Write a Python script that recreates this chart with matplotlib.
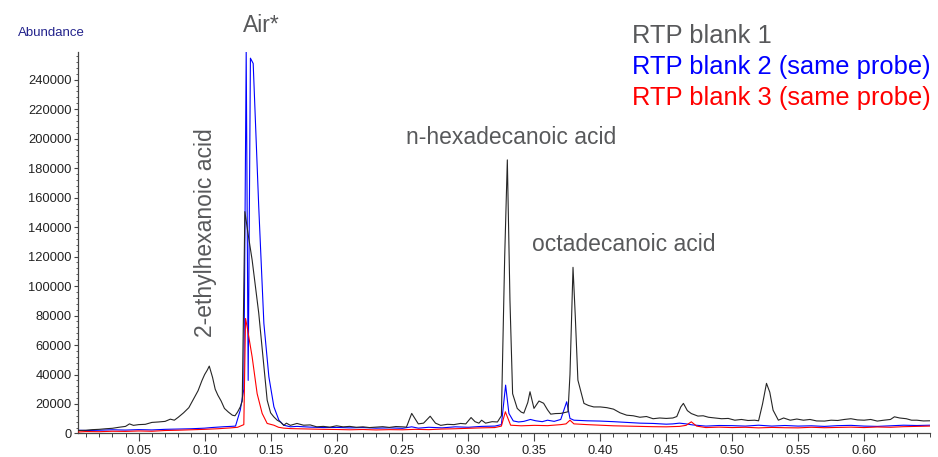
import numpy as np
import matplotlib
matplotlib.use('Agg')
import matplotlib.pyplot as plt
from matplotlib.ticker import MultipleLocator, FixedLocator, FormatStrFormatter

plt.rcParams['font.family'] = ['Liberation Sans', 'DejaVu Sans']

# ─── Data (retention time, abundance) ───
blank1_x = [0.004, 0.01, 0.015, 0.02, 0.025, 0.03, 0.035, 0.04, 0.043, 0.046,
            0.05, 0.055, 0.06, 0.065, 0.07, 0.074, 0.077, 0.08, 0.084, 0.088,
            0.092, 0.095, 0.098, 0.1, 0.102, 0.1035, 0.106, 0.108, 0.11, 0.1125,
            0.115, 0.118, 0.121, 0.123, 0.125, 0.127, 0.1285, 0.1305, 0.133, 0.136,
            0.141, 0.145, 0.1474, 0.15, 0.1524, 0.155, 0.1575, 0.16, 0.162, 0.165,
            0.17, 0.175, 0.18, 0.185, 0.19, 0.195, 0.2, 0.205, 0.21, 0.215,
            0.22, 0.225, 0.23, 0.235, 0.24, 0.245, 0.25, 0.253, 0.257, 0.262,
            0.266, 0.271, 0.275, 0.279, 0.284, 0.289, 0.294, 0.298, 0.302, 0.305,
            0.308, 0.31, 0.313, 0.318, 0.322, 0.325, 0.3275, 0.3295, 0.3315, 0.3335,
            0.337, 0.34, 0.342, 0.345, 0.3467, 0.3497, 0.3535, 0.357, 0.36, 0.3624,
            0.366, 0.37, 0.3755, 0.377, 0.3793, 0.381, 0.383, 0.3876, 0.391, 0.395,
            0.4, 0.405, 0.41, 0.415, 0.42, 0.425, 0.43, 0.435, 0.44, 0.445,
            0.45, 0.455, 0.458, 0.461, 0.463, 0.466, 0.469, 0.474, 0.478, 0.482,
            0.487, 0.492, 0.497, 0.502, 0.507, 0.512, 0.517, 0.52, 0.523, 0.526,
            0.5285, 0.531, 0.535, 0.539, 0.544, 0.549, 0.554, 0.559, 0.564, 0.57,
            0.575, 0.58, 0.585, 0.59, 0.595, 0.6, 0.605, 0.61, 0.615, 0.62,
            0.623, 0.627, 0.632, 0.636, 0.64, 0.645, 0.65]
blank1_y = [2000, 2200, 2600, 2800, 3200, 3500, 4200, 4800, 6500, 5500,
            6000, 6200, 7500, 7800, 8200, 9700, 9000, 11000, 14000, 17500,
            24000, 29000, 36000, 40000, 43000, 45700, 38000, 30000, 26000, 22000,
            17000, 14500, 12400, 12000, 14600, 18000, 22000, 150500, 135000, 117700,
            81700, 45200, 22600, 14000, 11300, 9000, 7700, 5500, 7000, 5500,
            6800, 5600, 5800, 4500, 4800, 4300, 5200, 4500, 4800, 4200,
            4500, 4000, 4300, 4600, 4100, 4700, 4500, 4300, 13600, 6500,
            7000, 11700, 7000, 5500, 6200, 6000, 6800, 6500, 10800, 8000,
            7000, 9000, 7000, 8000, 7800, 12000, 120000, 185600, 90000, 27000,
            17000, 14500, 13800, 21000, 28300, 17000, 22000, 20500, 16000, 13100,
            13500, 13600, 14700, 40000, 112700, 80000, 36200, 20400, 19000, 18000,
            18000, 17500, 16500, 14000, 12400, 12000, 11000, 11500, 10000, 10500,
            10200, 10500, 11500, 18000, 20400, 15500, 13500, 11800, 12000, 11000,
            10500, 10000, 10200, 9000, 9500, 8800, 9000, 8600, 20000, 34000,
            28000, 15800, 9000, 10500, 9000, 9800, 9000, 9500, 8500, 8400,
            9000, 8800, 9500, 10000, 9200, 9000, 9500, 8400, 9000, 9500,
            11300, 10500, 10000, 9000, 9000, 8500, 8600]

blank2_x = [0.004, 0.01, 0.02, 0.03, 0.04, 0.05, 0.06, 0.07, 0.08, 0.09,
            0.1, 0.105, 0.11, 0.115, 0.12, 0.1234, 0.127, 0.1297, 0.1315, 0.133,
            0.1347, 0.1368, 0.141, 0.1449, 0.1487, 0.1525, 0.1563, 0.16, 0.165, 0.17,
            0.18, 0.19, 0.2, 0.21, 0.22, 0.23, 0.24, 0.25, 0.257, 0.262,
            0.27, 0.28, 0.29, 0.3, 0.31, 0.32, 0.325, 0.3282, 0.3307, 0.334,
            0.338, 0.342, 0.347, 0.351, 0.356, 0.36, 0.365, 0.37, 0.3745, 0.377,
            0.38, 0.39, 0.4, 0.41, 0.42, 0.43, 0.44, 0.45, 0.455, 0.46,
            0.465, 0.47, 0.48, 0.49, 0.5, 0.51, 0.52, 0.53, 0.54, 0.55,
            0.56, 0.57, 0.58, 0.59, 0.6, 0.61, 0.62, 0.63, 0.64, 0.65]
blank2_y = [2200, 2000, 2200, 2500, 2300, 2600, 2400, 2800, 3000, 3200,
            3600, 4000, 4300, 4600, 4800, 5000, 15800, 30000, 259000, 36000,
            254600, 251000, 153900, 74700, 38400, 18100, 9000, 5600, 4500, 4800,
            4300, 4000, 4100, 3800, 4000, 3600, 3800, 3500, 4500, 3600,
            4200, 3800, 4500, 4200, 4800, 5000, 6000, 32800, 13600, 8500,
            7800, 8200, 9500, 8600, 8000, 9000, 8200, 9500, 21500, 10200,
            9000, 8600, 8400, 8000, 7500, 7000, 6800, 6300, 6500, 7000,
            6500, 5800, 5000, 5400, 5300, 5000, 5600, 5000, 5400, 5000,
            5200, 4800, 5300, 5500, 5000, 4800, 5200, 5600, 5400, 5600]

blank3_x = [0.004, 0.01, 0.02, 0.03, 0.04, 0.05, 0.06, 0.07, 0.08, 0.09,
            0.1, 0.11, 0.12, 0.125, 0.1297, 0.131, 0.1322, 0.136, 0.1398, 0.1436,
            0.1474, 0.1525, 0.156, 0.16, 0.165, 0.17, 0.18, 0.19, 0.2, 0.21,
            0.22, 0.23, 0.24, 0.25, 0.26, 0.27, 0.28, 0.29, 0.3, 0.31,
            0.32, 0.325, 0.328, 0.332, 0.34, 0.35, 0.36, 0.37, 0.374, 0.377,
            0.38, 0.39, 0.4, 0.41, 0.42, 0.43, 0.44, 0.45, 0.46, 0.465,
            0.469, 0.473, 0.48, 0.49, 0.5, 0.51, 0.52, 0.53, 0.54, 0.55,
            0.56, 0.57, 0.58, 0.59, 0.6, 0.61, 0.62, 0.63, 0.64, 0.65]
blank3_y = [1000, 1300, 1200, 1500, 1400, 1700, 1500, 2000, 2200, 2500,
            2800, 3200, 3800, 4200, 6000, 78000, 72400, 52000, 27000, 13600,
            6800, 5600, 4200, 3600, 3300, 3200, 3000, 2800, 2700, 2500,
            2700, 2400, 2600, 2500, 2800, 2600, 3000, 3200, 3500, 3800,
            4000, 5000, 14700, 5600, 5200, 5500, 5300, 6000, 6500, 9000,
            6500, 6000, 5600, 5200, 5000, 4800, 4600, 4500, 4800, 5500,
            7900, 5000, 4000, 4300, 4000, 4200, 3800, 4100, 3900, 3800,
            4200, 3900, 4100, 4300, 4000, 4400, 4200, 4600, 4800, 5000]

series_names = ['RTP blank 1', 'RTP blank 2 (same probe)', 'RTP blank 3 (same probe)']
series_colors = ['#58595b', '#0000ff', '#ff0000']

x_major = [0.05, 0.10, 0.15, 0.20, 0.25, 0.30, 0.35, 0.40, 0.45, 0.50, 0.55, 0.60]
y_major = [0, 20000, 40000, 60000, 80000, 100000, 120000, 140000,
           160000, 180000, 200000, 220000, 240000]

# ─── Figure ───
fig = plt.figure(figsize=(9.38, 4.57), dpi=100)
ax = fig.add_axes([0.0832, 0.0515, 0.9083, 0.8354])

ax.plot(blank2_x, blank2_y, color='#0000ff', lw=0.8, zorder=2)
ax.plot(blank3_x, blank3_y, color='#ff0000', lw=0.8, zorder=3)
ax.plot(blank1_x, blank1_y, color='#262626', lw=0.8, zorder=4)

ax.set_xlim(0.004, 0.65)
ax.set_ylim(0, 259000)

for side in ('top', 'right'):
    ax.spines[side].set_visible(False)
for side in ('left', 'bottom'):
    ax.spines[side].set_color('#444444')
    ax.spines[side].set_linewidth(0.9)

ax.xaxis.set_major_locator(FixedLocator(x_major))
ax.xaxis.set_minor_locator(MultipleLocator(0.01))
ax.xaxis.set_major_formatter(FormatStrFormatter('%.2f'))
ax.yaxis.set_major_locator(FixedLocator(y_major))
ax.yaxis.set_minor_locator(MultipleLocator(4000))
ax.yaxis.set_major_formatter(FormatStrFormatter('%d'))

ax.tick_params(axis='x', which='major', length=6, width=0.8, pad=2,
               labelsize=9.3, colors='#444444', labelcolor='#222222')
ax.tick_params(axis='x', which='minor', length=3, width=0.7, colors='#444444')
ax.tick_params(axis='y', which='major', length=3, width=0.8, pad=1.5,
               labelsize=9.3, colors='#444444', labelcolor='#222222')
ax.tick_params(axis='y', which='minor', length=1.5, width=0.6, colors='#444444')

# ─── Labels ───
fig.text(0.019, 0.928, 'Abundance', fontsize=9.5, color='#23238c',
         ha='left', va='center')

label_color = '#58595b'
ax.text(0.143, 277000, 'Air*', fontsize=16.5, color=label_color,
        ha='center', va='center', clip_on=False)
ax.text(0.332, 201000, 'n-hexadecanoic acid', fontsize=16.5, color=label_color,
        ha='center', va='center')
ax.text(0.418, 128500, 'octadecanoic acid', fontsize=16.5, color=label_color,
        ha='center', va='center')
ax.text(0.1006, 136500, '2-ethylhexanoic acid', fontsize=16.5, color=label_color,
        ha='center', va='center', rotation=90)

# Legend as coloured text lines
for i, (name, col) in enumerate(zip(series_names, series_colors)):
    fig.text(0.6735, 0.906 - i * 0.0675, name, fontsize=18.4, color=col,
             ha='left', va='baseline')

fig.savefig('out.png', dpi=100)
